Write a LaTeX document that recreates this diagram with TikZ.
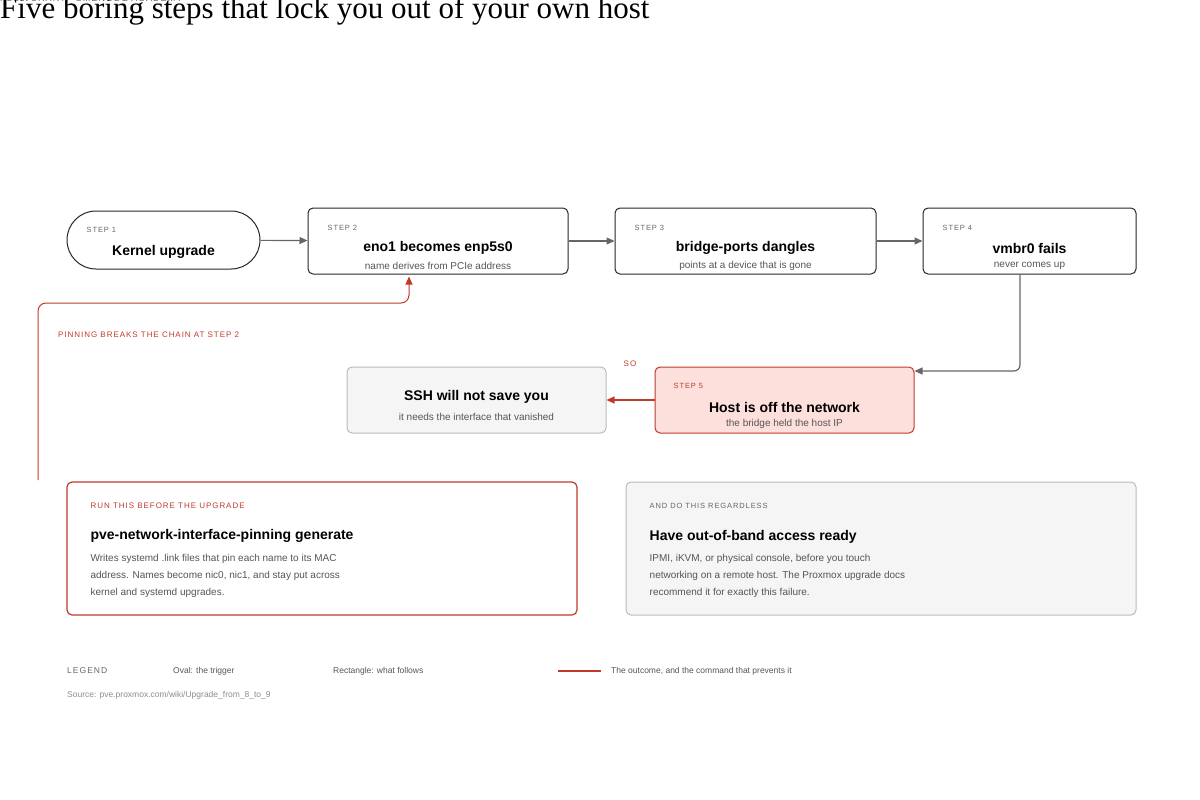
\documentclass[tikz,border=0pt]{standalone}
\usepackage{fontspec}
\setmainfont{Liberation Sans}
\newfontfamily\titlefont{Liberation Serif}
\newfontfamily\capsfont[LetterSpace=12]{Liberation Sans}
\usepackage{xcolor}
\usetikzlibrary{positioning,arrows.meta}
\definecolor{inkred}{HTML}{C0392B}
\definecolor{pinkfill}{HTML}{FDE0DC}
\definecolor{panel}{HTML}{F5F5F5}
\definecolor{edge}{HTML}{BBBBBB}
\definecolor{subgray}{HTML}{555555}
\tikzset{
  stepbox/.style={draw=black!85,line width=1pt,rounded corners=5pt,minimum height=66pt},
  steplbl/.style={anchor=north west,inner sep=0pt,font=\capsfont\fontsize{7.5}{9}\selectfont,text=black!60},
  headline/.style={inner sep=0pt,font=\bfseries\fontsize{14}{16}\selectfont},
  sub/.style={inner sep=0pt,font=\fontsize{10}{12}\selectfont,text=subgray},
  flow/.style={draw=black!60,line width=1.2pt,-{Triangle[length=8pt,width=7pt]}},
  redflow/.style={draw=inkred,line width=1.2pt,-{Triangle[length=8pt,width=7pt]}},
  tag/.style={inner sep=0pt,font=\capsfont\fontsize{8}{10}\selectfont,text=inkred},
}
\begin{document}
\begin{tikzpicture}[x=1pt,y=1pt,yscale=-1]
\useasboundingbox (0,0) rectangle (1200,800);

% header
\node[anchor=south west,inner sep=0pt,font=\capsfont\fontsize{9}{11}\selectfont,text=black!60] (kicker) at (0,2) {FLOWCHART · SMENODE ACADEMY};
\node[anchor=south west,inner sep=0pt,font=\titlefont\fontsize{31}{34}\selectfont] (title) at (0,25) {Five boring steps that lock you out of your own host};

% steps
\node[stepbox,rounded corners=29pt,minimum width=193pt,minimum height=58pt] (s1) at (163.5,240) {};
\node[stepbox,minimum width=260pt] (s2) at (438,241) {};
\node[stepbox,minimum width=261pt] (s3) at (745.5,241) {};
\node[stepbox,minimum width=213pt] (s4) at (1029.5,241) {};
\node[stepbox,draw=inkred,fill=pinkfill,minimum width=259pt] (s5) at (784.5,400) {};
\node[stepbox,draw=edge,fill=panel,minimum width=259pt] (ssh) at (476.5,400) {};

\node[steplbl,anchor=west] at ([xshift=20pt,yshift=19pt]s1.north west) {STEP 1};
\node[headline] at ([yshift=12pt]s1.center) {Kernel upgrade};
\node[steplbl,anchor=west] at ([xshift=20pt,yshift=20pt]s2.north west) {STEP 2};
\node[headline] at ([yshift=7pt]s2.center) {eno1 becomes enp5s0};
\node[sub] at ([yshift=25pt]s2.center) {name derives from PCIe address};
\node[steplbl,anchor=west] at ([xshift=20pt,yshift=20pt]s3.north west) {STEP 3};
\node[headline] at ([yshift=7pt]s3.center) {bridge-ports dangles};
\node[sub] at ([yshift=25pt]s3.center) {points at a device that is gone};
\node[steplbl,anchor=west] at ([xshift=20pt,yshift=20pt]s4.north west) {STEP 4};
\node[headline] at ([yshift=7pt]s4.center) {vmbr0 fails};
\node[sub] at ([yshift=25pt]s4.center) {never comes up};
\node[steplbl,anchor=west,text=inkred] at ([xshift=19pt,yshift=19pt]s5.north west) {STEP 5};
\node[headline] at ([yshift=7pt]s5.center) {Host is off the network};
\node[sub] at ([yshift=24pt]s5.center) {the bridge held the host IP};
\node[headline] at ([yshift=-3pt]ssh.center) {SSH will not save you};
\node[sub] at ([yshift=17pt]ssh.center) {it needs the interface that vanished};

% connectors
\draw[flow] (s1) -- (s2);
\draw[flow] (s2) -- (s3);
\draw[flow] (s3) -- (s4);
\coordinate (bend) at (1020,371);
\draw[flow,rounded corners=6pt] ([xshift=-9.5pt]s4.south) -- (bend) -- (s5.north east |- bend);
\draw[redflow] (s5) -- (ssh);
\node[tag] (so) at (630,364) {SO};
\coordinate (pinstart) at (38,480);
\coordinate (pinturn) at (38,303);
\draw[redflow,line width=1pt,rounded corners=8pt] (pinstart) -- (pinturn) -- ([xshift=-29pt]s2.south |- pinturn) -- ([xshift=-29pt,yshift=2pt]s2.south);
\node[tag,anchor=west] (pinlbl) at (58,335) {PINNING BREAKS THE CHAIN AT STEP 2};

% panels
\node[draw=inkred,line width=1.2pt,rounded corners=5pt,minimum width=510pt,minimum height=133pt] (run) at (322,548.5) {};
\node[tag,anchor=west] at ([xshift=24pt,yshift=24pt]run.north west) {RUN THIS BEFORE THE UPGRADE};
\node[headline,anchor=west] at ([xshift=24pt,yshift=55pt]run.north west) {pve-network-interface-pinning generate};
\node[sub,anchor=north west,align=left,font=\fontsize{10}{17}\selectfont] at ([xshift=24pt,yshift=73pt]run.north west) {Writes systemd .link files that pin each name to its MAC\\address. Names become nic0, nic1, and stay put across\\kernel and systemd upgrades.};

\node[draw=edge,fill=panel,line width=1pt,rounded corners=5pt,minimum width=510pt,minimum height=133pt] (oob) at (881,548.5) {};
\node[steplbl,anchor=west] at ([xshift=24pt,yshift=24pt]oob.north west) {AND DO THIS REGARDLESS};
\node[headline,anchor=west] at ([xshift=24pt,yshift=55pt]oob.north west) {Have out-of-band access ready};
\node[sub,anchor=north west,align=left,font=\fontsize{10}{17}\selectfont] at ([xshift=24pt,yshift=73pt]oob.north west) {IPMI, iKVM, or physical console, before you touch\\networking on a remote host. The Proxmox upgrade docs\\recommend it for exactly this failure.};

% legend
\node[steplbl,anchor=west,font=\capsfont\fontsize{8.5}{10}\selectfont] (leg) at (67,671) {LEGEND};
\node[sub,anchor=west,font=\fontsize{8.5}{10}\selectfont] (legoval) at (173,671) {Oval: the trigger};
\node[sub,anchor=west,font=\fontsize{8.5}{10}\selectfont] (legrect) at (333,671) {Rectangle: what follows};
\coordinate (lega) at (558,671);
\coordinate (legb) at (601,671);
\draw[inkred,line width=1.2pt] (lega) -- (legb);
\node[sub,anchor=west,font=\fontsize{8.5}{10}\selectfont] (legred) at (611,671) {The outcome, and the command that prevents it};
\node[sub,anchor=west,text=black!45,font=\fontsize{8.5}{10}\selectfont] (src) at (67,695) {Source: pve.proxmox.com/wiki/Upgrade\_from\_8\_to\_9};
\end{tikzpicture}
\end{document}
